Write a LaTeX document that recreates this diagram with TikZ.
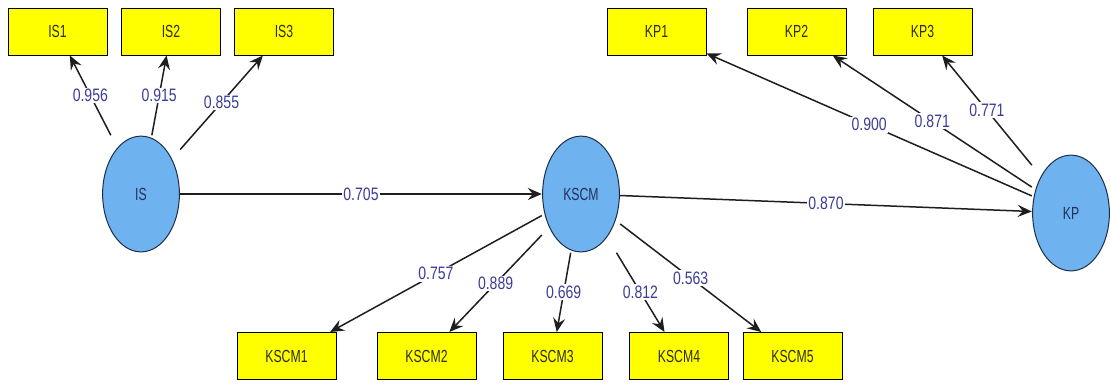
\documentclass[tikz,border=0pt]{standalone}
\usepackage{fontspec}
\setmainfont{Liberation Sans}
\newfontfamily\lblfont[FakeStretch=0.78]{Liberation Sans}
\newfontfamily\boxfont[FakeStretch=0.7]{Liberation Sans}
\usetikzlibrary{arrows.meta}
\definecolor{boxyellow}{RGB}{255,255,0}
\definecolor{boxtext}{RGB}{45,45,25}
\definecolor{circfill}{RGB}{110,178,240}
\definecolor{circborder}{RGB}{30,45,70}
\definecolor{circtext}{RGB}{35,50,85}
\definecolor{linecol}{RGB}{30,30,30}
\definecolor{lblcol}{RGB}{60,60,150}
\begin{document}
\begin{tikzpicture}[x=1pt,y=-1pt,
  mv/.style={rectangle, draw=black, line width=1pt, fill=boxyellow,
    minimum width=99pt, minimum height=47pt, inner sep=0pt,
    font=\boxfont\fontsize{17.5pt}{19pt}\selectfont, text=boxtext},
  lv/.style={rectangle, minimum width=78pt, minimum height=117pt, inner sep=0pt,
    path picture={\draw[draw=circborder, fill=circfill, line width=1pt]
      (path picture bounding box.center) ellipse [x radius=38.4pt, y radius=57.9pt];},
    font=\boxfont\fontsize{17.5pt}{19pt}\selectfont, text=circtext},
  conn/.style={draw=linecol, line width=1.5pt,
    -{Stealth[length=14pt,width=12pt,inset=5pt]}},
  lbl/.style={fill=white, inner sep=1.5pt, text=lblcol,
    font=\lblfont\fontsize{18pt}{20pt}\selectfont}]
\useasboundingbox (0,0) rectangle (1111,383);
% indicators
\node[mv] (IS1) at (57.5,31.5) {IS1};
\node[mv] (IS2) at (171,31.5) {IS2};
\node[mv] (IS3) at (284,31.5) {IS3};
\node[mv] (KP1) at (656.5,31.5) {KP1};
\node[mv] (KP2) at (796.5,31.5) {KP2};
\node[mv] (KP3) at (922.5,31.5) {KP3};
\node[mv] (KSCM1) at (286.5,356) {KSCM1};
\node[mv] (KSCM2) at (426.5,356) {KSCM2};
\node[mv] (KSCM3) at (552.5,356) {KSCM3};
\node[mv] (KSCM4) at (679,356) {KSCM4};
\node[mv] (KSCM5) at (792.5,356) {KSCM5};
% latent variables
\node[lv] (IS) at (141,194) {IS};
\node[lv] (KSCM) at (581,194) {KSCM};
\node[lv] (KP) at (1071,213) {KP};
% loadings
\draw[conn] (IS) -- node[lbl] {0.956} (IS1);
\draw[conn] (IS) -- node[lbl] {0.915} (IS2);
\draw[conn] (IS) -- node[lbl] {0.855} (IS3);
\draw[conn] (KP) -- node[lbl] {0.900} (KP1);
\draw[conn] (KP) -- node[lbl] {0.871} (KP2);
\draw[conn] (KP) -- node[lbl] {0.771} (KP3);
\draw[conn] (KSCM) -- node[lbl] {0.757} (KSCM1);
\draw[conn] (KSCM) -- node[lbl] {0.889} (KSCM2);
\draw[conn] (KSCM) -- node[lbl] {0.669} (KSCM3);
\draw[conn] (KSCM) -- node[lbl] {0.812} (KSCM4);
\draw[conn] (KSCM) -- node[lbl] {0.563} (KSCM5);
% paths
\draw[conn] (IS) -- node[lbl] {0.705} (KSCM);
\draw[conn] (KSCM) -- node[lbl] {0.870} (KP);
\end{tikzpicture}
\end{document}
